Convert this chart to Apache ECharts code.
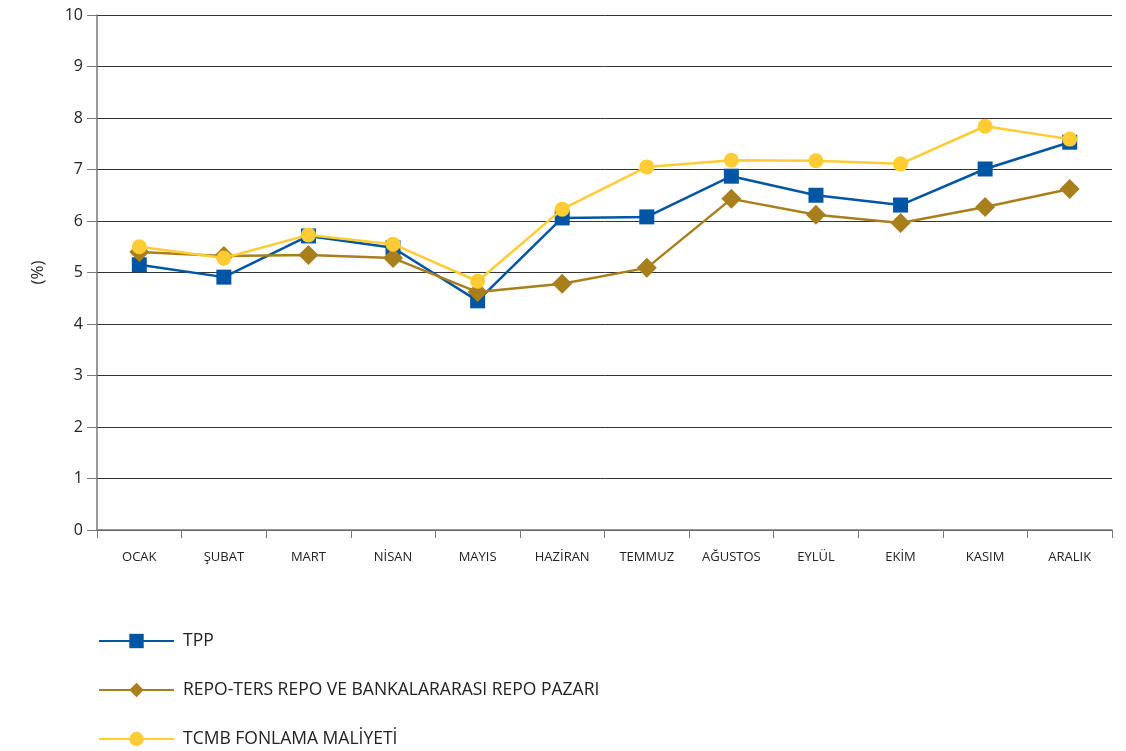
<!DOCTYPE html>
<html><head><meta charset="utf-8">
<script src="https://cdn.jsdelivr.net/npm/echarts@6/dist/echarts.min.js"></script>
<style>html,body{margin:0;padding:0;background:#fff}#c{width:1126px;height:751px}</style>
</head><body><div id="c"></div>
<script>
const categories = ['OCAK','ŞUBAT','MART','NİSAN','MAYIS','HAZİRAN','TEMMUZ','AĞUSTOS','EYLÜL','EKİM','KASIM','ARALIK'];
const tpp = [5.15,4.91,5.71,5.48,4.45,6.06,6.08,6.87,6.50,6.31,7.01,7.53];
const repo = [5.40,5.32,5.34,5.28,4.62,4.78,5.09,6.43,6.12,5.96,6.27,6.62];
const tcmb = [5.50,5.28,5.73,5.55,4.83,6.23,7.05,7.18,7.17,7.11,7.84,7.59];
const names = ['TPP','REPO-TERS REPO VE BANKALARARASI REPO PAZARI','TCMB FONLAMA MALİYETİ'];
const font = 'Open Sans';
const chart = echarts.init(document.getElementById('c'));
chart.setOption({
  animation:false,
  textStyle:{fontFamily:font},
  grid:{left:97,right:14,top:15,bottom:221},
  legend:{orient:'vertical',left:98,top:632,padding:0,itemGap:31,itemWidth:75,itemHeight:18,
    textStyle:{fontSize:17.5,color:'#222',fontFamily:font,padding:[0,0,0,4]},
    data:names},
  xAxis:{type:'category',data:categories,boundaryGap:true,
    axisLine:{lineStyle:{color:'#777',width:1.5}},
    axisTick:{show:true,length:8,lineStyle:{color:'#777'}},
    axisLabel:{fontSize:13,color:'#222',margin:21,interval:0}},
  yAxis:{type:'value',min:0,max:10,interval:1,name:'(%)',nameLocation:'middle',nameGap:50,
    nameTextStyle:{fontSize:17,color:'#222'},
    axisLine:{show:true,lineStyle:{color:'#777',width:1.5}},
    axisTick:{show:true,length:10,lineStyle:{color:'#777'}},
    axisLabel:{fontSize:16,color:'#222',margin:14},
    splitLine:{lineStyle:{color:'#333',width:1}}},
  series:[
    {name:names[0],type:'line',data:tpp,symbol:'rect',symbolSize:15,color:'#0055A5',lineStyle:{width:2.5,color:'#0055A5'},itemStyle:{color:'#0055A5'},z:2},
    {name:names[1],type:'line',data:repo,symbol:'diamond',symbolSize:20,color:'#A97E1C',lineStyle:{width:2.5,color:'#A97E1C'},itemStyle:{color:'#A97E1C'},z:3},
    {name:names[2],type:'line',data:tcmb,symbol:'circle',symbolSize:15,color:'#FFCC33',lineStyle:{width:2.5,color:'#FFCC33'},itemStyle:{color:'#FFCC33'},z:4}
  ]
});
</script></body></html>
